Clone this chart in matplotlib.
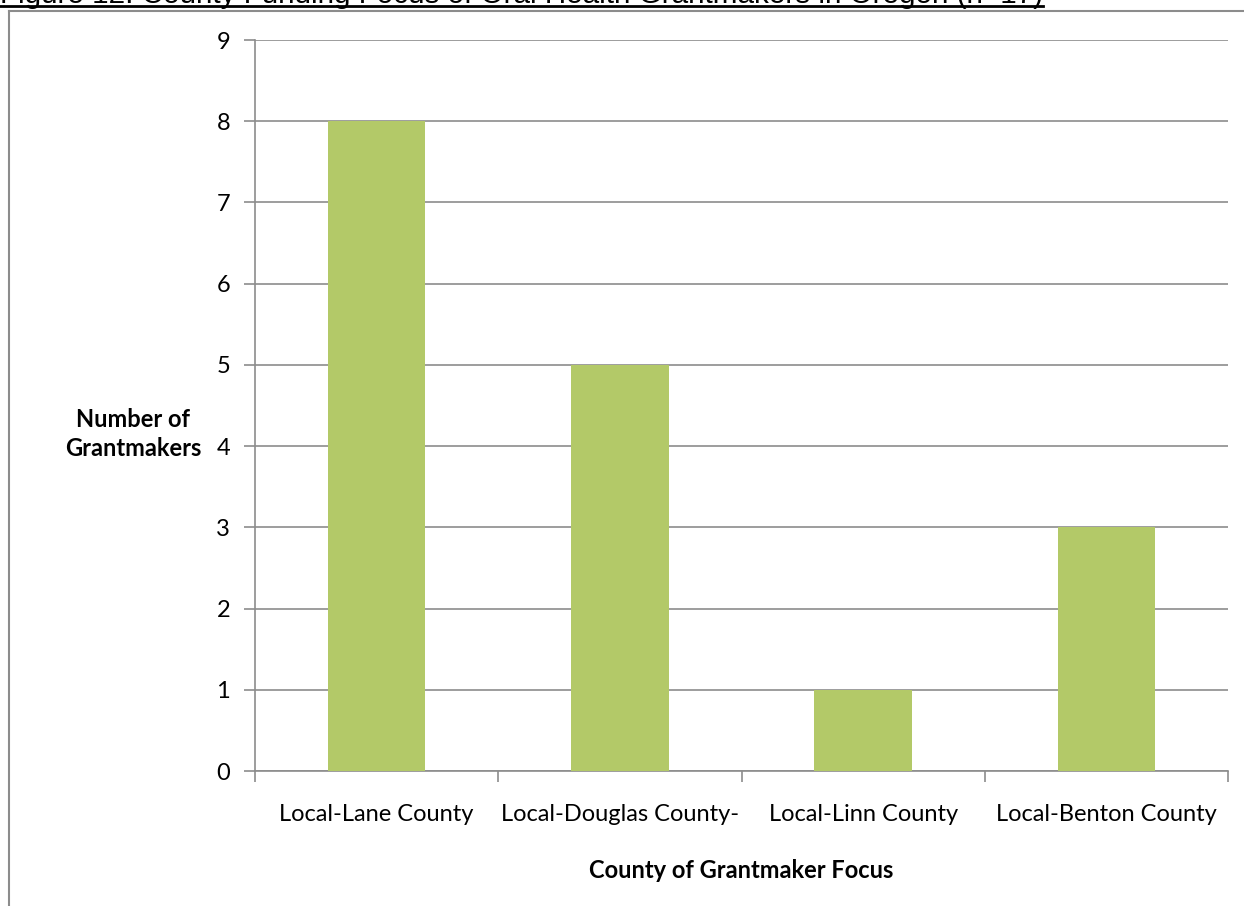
import matplotlib
matplotlib.use("Agg")
import matplotlib.pyplot as plt
from matplotlib.lines import Line2D

# counts of grantmakers per county
counties = ["Local-Lane County", "Local-Douglas County-", "Local-Linn County", "Local-Benton County"]
grantmakers = [8, 5, 1, 3]
yticks = list(range(0, 10))

title = "Figure 12: County Funding Focus of Oral Health Grantmakers in Oregon (n=17)"
bar_color = "#B3C968"
grey = "#8c8c8c"
fs = 17

W, H = 1244, 906
fig = plt.figure(figsize=(W / 100, H / 100), dpi=100)
ax = fig.add_axes([255 / W, 1 - 771 / H, (1228 - 255) / W, (771 - 40) / H])

x = list(range(len(counties)))
ax.bar(x, grantmakers, width=0.4, color=bar_color, zorder=3)

ax.set_xlim(-0.5, len(counties) - 0.5)
ax.set_ylim(0, 9)
ax.set_yticks(yticks)
ax.set_yticklabels([str(t) for t in yticks], family="Lato", fontsize=fs)
ax.set_xticks(x)
ax.set_xticklabels(counties, family="Lato", fontsize=fs)
ax.set_xticks([i - 0.5 for i in range(len(counties) + 1)], minor=True)

ax.tick_params(axis="x", which="major", length=0, pad=24)
ax.tick_params(axis="x", which="minor", length=8, color=grey, width=1.2)
ax.tick_params(axis="y", length=8, color=grey, width=1.2, pad=10)

ax.grid(axis="y", color=grey, linewidth=1.2, zorder=0)
for s in ["top", "right"]:
    ax.spines[s].set_visible(False)
for s in ["left", "bottom"]:
    ax.spines[s].set_color(grey)
    ax.spines[s].set_linewidth(1.2)

ax.set_ylabel("Number of\nGrantmakers", family="Lato", fontsize=fs, fontweight="bold",
              rotation=0, ha="center", va="center", linespacing=1.3)
ax.yaxis.set_label_coords(-0.125, 0.461)
ax.set_xlabel("County of Grantmaker Focus", family="Lato", fontsize=fs, fontweight="bold")
ax.xaxis.set_label_coords(0.5, -0.12)

# outer frame of the chart area
fig.add_artist(Line2D([9 / W, 9 / W], [0, 1 - 11 / H], color=grey, lw=1.5))
fig.add_artist(Line2D([9 / W, 1], [1 - 11 / H, 1 - 11 / H], color=grey, lw=1.5))

# underlined heading, mostly above the top edge
t = fig.text(0, 1 - 3 / H, title, family="Liberation Sans", fontsize=21.3, va="baseline", ha="left")
fig.canvas.draw()
bb = t.get_window_extent()
fig.add_artist(Line2D([0, bb.x1 / W], [1 - 5.5 / H, 1 - 5.5 / H], color="black", lw=2))

fig.savefig("out.png", dpi=100)
